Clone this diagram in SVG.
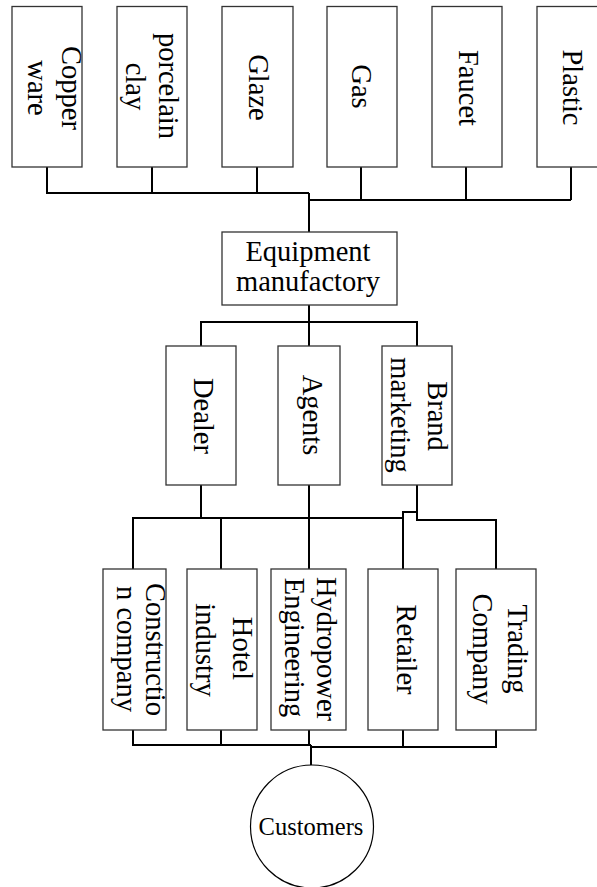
<svg xmlns="http://www.w3.org/2000/svg" width="597" height="887" viewBox="0 0 597 887">
<style>
.box{fill:#fff;stroke:#333;stroke-width:1.3}
.t{font-family:"Liberation Serif","Times New Roman",serif;font-size:28.5px;fill:#000;text-anchor:middle}
.c{fill:none;stroke:#000;stroke-width:2}
</style>
<rect width="597" height="887" fill="#fff"/>
<g id="connectors">
<path class="c" d="M47 167V193H309M152 167V193M257 167V193"/>
<path class="c" d="M361 167V200M466 167V200M571 167V200M309 200H571"/>
<path class="c" d="M309 193V232"/>
<path class="c" d="M309 305V346M201 346V322H417V346"/>
<path class="c" d="M201 485V518M309 485V569M133 569V518H403M221 518V569M403 569V512H417M417 485V520H496V569"/>
<path class="c" d="M133 730V745H311M221 730V745M309 730V745M403 730V747M496 730V747H311M311 745V765"/>
</g>
<g id="copper"><rect class="box" x="12" y="6.5" width="70" height="160.5"/>
<text class="t" transform="translate(62,88) rotate(90)">Copper</text>
<text class="t" transform="translate(28,88) rotate(90)">ware</text></g>
<g id="porcelain"><rect class="box" x="117" y="6.5" width="70" height="160.5"/>
<text class="t" transform="translate(159,86) rotate(90)">porcelain</text>
<text class="t" transform="translate(126,86.5) rotate(90)">clay</text></g>
<g id="glaze"><rect class="box" x="222" y="6.5" width="71" height="160.5"/>
<text class="t" transform="translate(249,87.5) rotate(90)">Glaze</text></g>
<g id="gas"><rect class="box" x="327" y="6.5" width="70" height="160.5"/>
<text class="t" transform="translate(352,86.5) rotate(90)">Gas</text></g>
<g id="faucet"><rect class="box" x="432" y="6.5" width="70" height="160.5"/>
<text class="t" transform="translate(458.5,88) rotate(90)">Faucet</text></g>
<g id="plastic"><rect class="box" x="537" y="6.5" width="68" height="160.5"/>
<text class="t" transform="translate(563,87.5) rotate(90)">Plastic</text></g>
<g id="equipment"><rect class="box" x="222" y="232" width="175" height="73"/>
<text class="t" x="308" y="261">Equipment</text>
<text class="t" x="308" y="291">manufactory</text></g>
<g id="dealer"><rect class="box" x="166" y="346" width="70" height="139"/>
<text class="t" transform="translate(194,416) rotate(90)">Dealer</text></g>
<g id="agents"><rect class="box" x="278" y="346" width="62" height="139"/>
<text class="t" transform="translate(303,415) rotate(90)">Agents</text></g>
<g id="brand"><rect class="box" x="382" y="346" width="70" height="139"/>
<text class="t" transform="translate(428,416) rotate(90)">Brand</text>
<text class="t" transform="translate(391,415) rotate(90)">marketing</text></g>
<g id="construction"><rect class="box" x="103" y="569" width="63" height="161"/>
<text class="t" transform="translate(146,649.5) rotate(90)">Constructio</text>
<text class="t" transform="translate(116.5,649) rotate(90)">n company</text></g>
<g id="hotel"><rect class="box" x="187" y="569" width="70" height="161"/>
<text class="t" transform="translate(233,648.5) rotate(90)">Hotel</text>
<text class="t" transform="translate(195.5,650) rotate(90)">industry</text></g>
<g id="hydropower"><rect class="box" x="271" y="569" width="75" height="161"/>
<text class="t" transform="translate(317,649) rotate(90)">Hydropower</text>
<text class="t" transform="translate(284.5,647.5) rotate(90)">Engineering</text></g>
<g id="retailer"><rect class="box" x="368" y="569" width="70" height="161"/>
<text class="t" transform="translate(397,649.5) rotate(90)">Retailer</text></g>
<g id="trading"><rect class="box" x="456" y="569" width="80" height="161"/>
<text class="t" transform="translate(508,649) rotate(90)">Trading</text>
<text class="t" transform="translate(473,649) rotate(90)">Company</text></g>
<g id="customers"><circle cx="312" cy="826.5" r="61.5" fill="#fff" stroke="#000" stroke-width="1.2"/>
<text class="t" x="311" y="835" style="font-size:24.5px">Customers</text></g>
</svg>
